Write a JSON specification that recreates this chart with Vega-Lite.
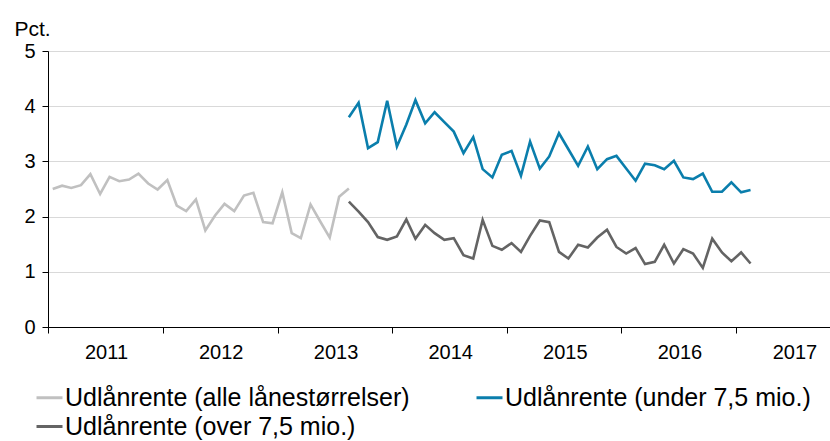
{
  "$schema": "https://vega.github.io/schema/vega-lite/v6.json",
  "width": 782,
  "height": 276,
  "autosize": {"type": "none"},
  "padding": {"left": 48, "top": 51, "right": 0, "bottom": 114},
  "config": {"font": "Liberation Sans", "view": {"stroke": null}},
  "data": {"values": [
    {"d": "2011/01/16", "s": "Udlånrente (alle lånestørrelser)", "v": 2.50},
    {"d": "2011/02/15", "s": "Udlånrente (alle lånestørrelser)", "v": 2.56},
    {"d": "2011/03/16", "s": "Udlånrente (alle lånestørrelser)", "v": 2.52},
    {"d": "2011/04/16", "s": "Udlånrente (alle lånestørrelser)", "v": 2.57},
    {"d": "2011/05/16", "s": "Udlånrente (alle lånestørrelser)", "v": 2.77},
    {"d": "2011/06/16", "s": "Udlånrente (alle lånestørrelser)", "v": 2.41},
    {"d": "2011/07/16", "s": "Udlånrente (alle lånestørrelser)", "v": 2.72},
    {"d": "2011/08/16", "s": "Udlånrente (alle lånestørrelser)", "v": 2.64},
    {"d": "2011/09/16", "s": "Udlånrente (alle lånestørrelser)", "v": 2.67},
    {"d": "2011/10/16", "s": "Udlånrente (alle lånestørrelser)", "v": 2.78},
    {"d": "2011/11/16", "s": "Udlånrente (alle lånestørrelser)", "v": 2.60},
    {"d": "2011/12/16", "s": "Udlånrente (alle lånestørrelser)", "v": 2.49},
    {"d": "2012/01/16", "s": "Udlånrente (alle lånestørrelser)", "v": 2.66},
    {"d": "2012/02/15", "s": "Udlånrente (alle lånestørrelser)", "v": 2.20},
    {"d": "2012/03/16", "s": "Udlånrente (alle lånestørrelser)", "v": 2.10},
    {"d": "2012/04/16", "s": "Udlånrente (alle lånestørrelser)", "v": 2.31},
    {"d": "2012/05/16", "s": "Udlånrente (alle lånestørrelser)", "v": 1.75},
    {"d": "2012/06/16", "s": "Udlånrente (alle lånestørrelser)", "v": 2.02},
    {"d": "2012/07/16", "s": "Udlånrente (alle lånestørrelser)", "v": 2.23},
    {"d": "2012/08/16", "s": "Udlånrente (alle lånestørrelser)", "v": 2.10},
    {"d": "2012/09/16", "s": "Udlånrente (alle lånestørrelser)", "v": 2.38},
    {"d": "2012/10/16", "s": "Udlånrente (alle lånestørrelser)", "v": 2.43},
    {"d": "2012/11/16", "s": "Udlånrente (alle lånestørrelser)", "v": 1.90},
    {"d": "2012/12/16", "s": "Udlånrente (alle lånestørrelser)", "v": 1.88},
    {"d": "2013/01/16", "s": "Udlånrente (alle lånestørrelser)", "v": 2.44},
    {"d": "2013/02/15", "s": "Udlånrente (alle lånestørrelser)", "v": 1.70},
    {"d": "2013/03/16", "s": "Udlånrente (alle lånestørrelser)", "v": 1.61},
    {"d": "2013/04/16", "s": "Udlånrente (alle lånestørrelser)", "v": 2.22},
    {"d": "2013/05/16", "s": "Udlånrente (alle lånestørrelser)", "v": 1.92},
    {"d": "2013/06/16", "s": "Udlånrente (alle lånestørrelser)", "v": 1.62},
    {"d": "2013/07/16", "s": "Udlånrente (alle lånestørrelser)", "v": 2.36},
    {"d": "2013/08/16", "s": "Udlånrente (alle lånestørrelser)", "v": 2.51},

    {"d": "2013/08/16", "s": "Udlånrente (under 7,5 mio.)", "v": 3.80},
    {"d": "2013/09/16", "s": "Udlånrente (under 7,5 mio.)", "v": 4.06},
    {"d": "2013/10/16", "s": "Udlånrente (under 7,5 mio.)", "v": 3.24},
    {"d": "2013/11/16", "s": "Udlånrente (under 7,5 mio.)", "v": 3.35},
    {"d": "2013/12/16", "s": "Udlånrente (under 7,5 mio.)", "v": 4.10},
    {"d": "2014/01/16", "s": "Udlånrente (under 7,5 mio.)", "v": 3.27},
    {"d": "2014/02/15", "s": "Udlånrente (under 7,5 mio.)", "v": 3.67},
    {"d": "2014/03/16", "s": "Udlånrente (under 7,5 mio.)", "v": 4.11},
    {"d": "2014/04/16", "s": "Udlånrente (under 7,5 mio.)", "v": 3.69},
    {"d": "2014/05/16", "s": "Udlånrente (under 7,5 mio.)", "v": 3.89},
    {"d": "2014/06/16", "s": "Udlånrente (under 7,5 mio.)", "v": 3.71},
    {"d": "2014/07/16", "s": "Udlånrente (under 7,5 mio.)", "v": 3.54},
    {"d": "2014/08/16", "s": "Udlånrente (under 7,5 mio.)", "v": 3.15},
    {"d": "2014/09/16", "s": "Udlånrente (under 7,5 mio.)", "v": 3.44},
    {"d": "2014/10/16", "s": "Udlånrente (under 7,5 mio.)", "v": 2.86},
    {"d": "2014/11/16", "s": "Udlånrente (under 7,5 mio.)", "v": 2.71},
    {"d": "2014/12/16", "s": "Udlånrente (under 7,5 mio.)", "v": 3.12},
    {"d": "2015/01/16", "s": "Udlånrente (under 7,5 mio.)", "v": 3.19},
    {"d": "2015/02/15", "s": "Udlånrente (under 7,5 mio.)", "v": 2.74},
    {"d": "2015/03/16", "s": "Udlånrente (under 7,5 mio.)", "v": 3.36},
    {"d": "2015/04/16", "s": "Udlånrente (under 7,5 mio.)", "v": 2.87},
    {"d": "2015/05/16", "s": "Udlånrente (under 7,5 mio.)", "v": 3.09},
    {"d": "2015/06/16", "s": "Udlånrente (under 7,5 mio.)", "v": 3.51},
    {"d": "2015/07/16", "s": "Udlånrente (under 7,5 mio.)", "v": 3.22},
    {"d": "2015/08/16", "s": "Udlånrente (under 7,5 mio.)", "v": 2.92},
    {"d": "2015/09/16", "s": "Udlånrente (under 7,5 mio.)", "v": 3.27},
    {"d": "2015/10/16", "s": "Udlånrente (under 7,5 mio.)", "v": 2.86},
    {"d": "2015/11/16", "s": "Udlånrente (under 7,5 mio.)", "v": 3.04},
    {"d": "2015/12/16", "s": "Udlånrente (under 7,5 mio.)", "v": 3.10},
    {"d": "2016/01/16", "s": "Udlånrente (under 7,5 mio.)", "v": 2.87},
    {"d": "2016/02/15", "s": "Udlånrente (under 7,5 mio.)", "v": 2.65},
    {"d": "2016/03/16", "s": "Udlånrente (under 7,5 mio.)", "v": 2.96},
    {"d": "2016/04/16", "s": "Udlånrente (under 7,5 mio.)", "v": 2.93},
    {"d": "2016/05/16", "s": "Udlånrente (under 7,5 mio.)", "v": 2.86},
    {"d": "2016/06/16", "s": "Udlånrente (under 7,5 mio.)", "v": 3.01},
    {"d": "2016/07/16", "s": "Udlånrente (under 7,5 mio.)", "v": 2.71},
    {"d": "2016/08/16", "s": "Udlånrente (under 7,5 mio.)", "v": 2.68},
    {"d": "2016/09/16", "s": "Udlånrente (under 7,5 mio.)", "v": 2.78},
    {"d": "2016/10/16", "s": "Udlånrente (under 7,5 mio.)", "v": 2.45},
    {"d": "2016/11/16", "s": "Udlånrente (under 7,5 mio.)", "v": 2.45},
    {"d": "2016/12/16", "s": "Udlånrente (under 7,5 mio.)", "v": 2.62},
    {"d": "2017/01/16", "s": "Udlånrente (under 7,5 mio.)", "v": 2.44},
    {"d": "2017/02/15", "s": "Udlånrente (under 7,5 mio.)", "v": 2.48},

    {"d": "2013/08/16", "s": "Udlånrente (over 7,5 mio.)", "v": 2.27},
    {"d": "2013/09/16", "s": "Udlånrente (over 7,5 mio.)", "v": 2.09},
    {"d": "2013/10/16", "s": "Udlånrente (over 7,5 mio.)", "v": 1.90},
    {"d": "2013/11/16", "s": "Udlånrente (over 7,5 mio.)", "v": 1.63},
    {"d": "2013/12/16", "s": "Udlånrente (over 7,5 mio.)", "v": 1.58},
    {"d": "2014/01/16", "s": "Udlånrente (over 7,5 mio.)", "v": 1.64},
    {"d": "2014/02/15", "s": "Udlånrente (over 7,5 mio.)", "v": 1.95},
    {"d": "2014/03/16", "s": "Udlånrente (over 7,5 mio.)", "v": 1.60},
    {"d": "2014/04/16", "s": "Udlånrente (over 7,5 mio.)", "v": 1.85},
    {"d": "2014/05/16", "s": "Udlånrente (over 7,5 mio.)", "v": 1.70},
    {"d": "2014/06/16", "s": "Udlånrente (over 7,5 mio.)", "v": 1.58},
    {"d": "2014/07/16", "s": "Udlånrente (over 7,5 mio.)", "v": 1.61},
    {"d": "2014/08/16", "s": "Udlånrente (over 7,5 mio.)", "v": 1.30},
    {"d": "2014/09/16", "s": "Udlånrente (over 7,5 mio.)", "v": 1.24},
    {"d": "2014/10/16", "s": "Udlånrente (over 7,5 mio.)", "v": 1.94},
    {"d": "2014/11/16", "s": "Udlånrente (over 7,5 mio.)", "v": 1.47},
    {"d": "2014/12/16", "s": "Udlånrente (over 7,5 mio.)", "v": 1.40},
    {"d": "2015/01/16", "s": "Udlånrente (over 7,5 mio.)", "v": 1.52},
    {"d": "2015/02/15", "s": "Udlånrente (over 7,5 mio.)", "v": 1.36},
    {"d": "2015/03/16", "s": "Udlånrente (over 7,5 mio.)", "v": 1.65},
    {"d": "2015/04/16", "s": "Udlånrente (over 7,5 mio.)", "v": 1.93},
    {"d": "2015/05/16", "s": "Udlånrente (over 7,5 mio.)", "v": 1.90},
    {"d": "2015/06/16", "s": "Udlånrente (over 7,5 mio.)", "v": 1.36},
    {"d": "2015/07/16", "s": "Udlånrente (over 7,5 mio.)", "v": 1.24},
    {"d": "2015/08/16", "s": "Udlånrente (over 7,5 mio.)", "v": 1.49},
    {"d": "2015/09/16", "s": "Udlånrente (over 7,5 mio.)", "v": 1.44},
    {"d": "2015/10/16", "s": "Udlånrente (over 7,5 mio.)", "v": 1.62},
    {"d": "2015/11/16", "s": "Udlånrente (over 7,5 mio.)", "v": 1.76},
    {"d": "2015/12/16", "s": "Udlånrente (over 7,5 mio.)", "v": 1.45},
    {"d": "2016/01/16", "s": "Udlånrente (over 7,5 mio.)", "v": 1.33},
    {"d": "2016/02/15", "s": "Udlånrente (over 7,5 mio.)", "v": 1.43},
    {"d": "2016/03/16", "s": "Udlånrente (over 7,5 mio.)", "v": 1.14},
    {"d": "2016/04/16", "s": "Udlånrente (over 7,5 mio.)", "v": 1.18},
    {"d": "2016/05/16", "s": "Udlånrente (over 7,5 mio.)", "v": 1.49},
    {"d": "2016/06/16", "s": "Udlånrente (over 7,5 mio.)", "v": 1.15},
    {"d": "2016/07/16", "s": "Udlånrente (over 7,5 mio.)", "v": 1.41},
    {"d": "2016/08/16", "s": "Udlånrente (over 7,5 mio.)", "v": 1.33},
    {"d": "2016/09/16", "s": "Udlånrente (over 7,5 mio.)", "v": 1.07},
    {"d": "2016/10/16", "s": "Udlånrente (over 7,5 mio.)", "v": 1.60},
    {"d": "2016/11/16", "s": "Udlånrente (over 7,5 mio.)", "v": 1.35},
    {"d": "2016/12/16", "s": "Udlånrente (over 7,5 mio.)", "v": 1.19},
    {"d": "2017/01/16", "s": "Udlånrente (over 7,5 mio.)", "v": 1.35},
    {"d": "2017/02/15", "s": "Udlånrente (over 7,5 mio.)", "v": 1.15}
  ]},
  "mark": {"type": "line", "strokeWidth": 2.6},
  "encoding": {
    "x": {
      "field": "d", "type": "temporal",
      "scale": {"domain": [{"year": 2011, "month": 1, "date": 1}, {"year": 2017, "month": 10, "date": 26}], "nice": false},
      "axis": {
        "title": null,
        "values": [{"year": 2011, "month": 1, "date": 1}, {"year": 2012, "month": 1, "date": 1}, {"year": 2013, "month": 1, "date": 1}, {"year": 2014, "month": 1, "date": 1}, {"year": 2015, "month": 1, "date": 1}, {"year": 2016, "month": 1, "date": 1}, {"year": 2017, "month": 1, "date": 1}],
        "format": "%Y",
        "labelOffset": 58,
        "labelFlush": false,
        "labelOverlap": false,
        "labelFontSize": 20,
        "labelColor": "#000000",
        "labelPadding": 9,
        "tickSize": 6,
        "tickColor": "#000000",
        "domainColor": "#000000",
        "grid": false
      }
    },
    "y": {
      "field": "v", "type": "quantitative",
      "scale": {"domain": [0, 5], "nice": false},
      "axis": {
        "values": [0, 1, 2, 3, 4, 5],
        "title": "Pct.",
        "titleAngle": 0,
        "titleAlign": "left",
        "titleBaseline": "middle",
        "titleX": -34,
        "titleY": -22,
        "titleFontSize": 21,
        "titleFontWeight": "normal",
        "titleColor": "#000000",
        "labelFontSize": 20,
        "labelColor": "#000000",
        "labelPadding": 7,
        "tickSize": 6,
        "tickColor": "#000000",
        "domainColor": "#000000",
        "gridColor": "#d9d9d9",
        "gridWidth": 1.2
      }
    },
    "color": {
      "field": "s", "type": "nominal",
      "scale": {
        "domain": ["Udlånrente (alle lånestørrelser)", "Udlånrente (under 7,5 mio.)", "Udlånrente (over 7,5 mio.)"],
        "range": ["#c0c0c0", "#0a7eac", "#646464"]
      },
      "legend": {
        "title": null,
        "orient": "none",
        "legendX": -13,
        "legendY": 332,
        "direction": "horizontal",
        "columns": 2,
        "columnPadding": 60,
        "rowPadding": 1,
        "symbolType": "stroke",
        "symbolSize": 676,
        "symbolStrokeWidth": 3,
        "labelFontSize": 25,
        "labelColor": "#000000",
        "labelOffset": 1,
        "labelLimit": 0
      }
    }
  }
}
